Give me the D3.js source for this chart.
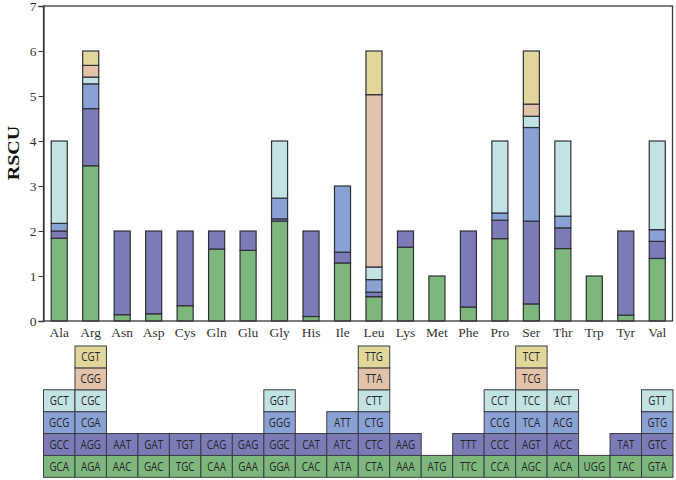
<!DOCTYPE html>
<html>
<head>
<meta charset="utf-8">
<script src="https://cdn.jsdelivr.net/npm/d3@7/dist/d3.min.js"></script>
<style>
  html, body { margin: 0; padding: 0; background: #fff; }
  svg { display: block; }
</style>
</head>
<body>
<svg id="chart" width="676" height="480"></svg>
<script>
// ---------------- data ----------------
const aminoAcids = ["Ala","Arg","Asn","Asp","Cys","Gln","Glu","Gly","His","Ile","Leu","Lys","Met","Phe","Pro","Ser","Thr","Trp","Tyr","Val"];

// codons per amino acid, bottom to top
const codons = [
  ["GCA","GCC","GCG","GCT"],
  ["AGA","AGG","CGA","CGC","CGG","CGT"],
  ["AAC","AAT"],
  ["GAC","GAT"],
  ["TGC","TGT"],
  ["CAA","CAG"],
  ["GAA","GAG"],
  ["GGA","GGC","GGG","GGT"],
  ["CAC","CAT"],
  ["ATA","ATC","ATT"],
  ["CTA","CTC","CTG","CTT","TTA","TTG"],
  ["AAA","AAG"],
  ["ATG"],
  ["TTC","TTT"],
  ["CCA","CCC","CCG","CCT"],
  ["AGC","AGT","TCA","TCC","TCG","TCT"],
  ["ACA","ACC","ACG","ACT"],
  ["UGG"],
  ["TAC","TAT"],
  ["GTA","GTC","GTG","GTT"]
];

// RSCU values, same order as codons
const rscu = [
  [1.84, 0.16, 0.17, 1.83],
  [3.45, 1.27, 0.55, 0.15, 0.26, 0.32],
  [0.14, 1.86],
  [0.16, 1.84],
  [0.34, 1.66],
  [1.60, 0.40],
  [1.57, 0.43],
  [2.22, 0.05, 0.46, 1.27],
  [0.10, 1.90],
  [1.29, 0.24, 1.47],
  [0.54, 0.10, 0.28, 0.28, 3.83, 0.97],
  [1.64, 0.36],
  [1.00],
  [0.31, 1.69],
  [1.83, 0.41, 0.16, 1.60],
  [0.38, 1.84, 2.08, 0.25, 0.27, 1.18],
  [1.61, 0.46, 0.26, 1.67],
  [1.00],
  [0.13, 1.87],
  [1.39, 0.38, 0.26, 1.97]
];

const yTicks = [0, 1, 2, 3, 4, 5, 6, 7];
const layerColors = ["#7db77b", "#7b7cb6", "#8aa1d3", "#c3e2e4", "#e2c3a9", "#e1d79b"];

// ---------------- layout ----------------
const svg = d3.select("#chart");
const plotLeft = 43.5, plotRight = 672.5, plotTop = 6, plotBottom = 321;

const x = d3.scaleBand().domain(aminoAcids).range([plotLeft, plotRight + 0.5])
  .paddingInner(0.49).paddingOuter(0.245);
const col = d3.scaleBand().domain(aminoAcids).range([plotLeft, plotRight + 0.5]).padding(0);
const y = d3.scaleLinear().domain([0, 7]).range([plotBottom, plotTop]);
const row = d3.scaleLinear().domain([0, 6]).range([477.3, 346]);

// stacked segments
const segments = [];
aminoAcids.forEach((aa, i) => {
  let cum = 0;
  rscu[i].forEach((v, k) => {
    segments.push({ aa, k, y0: cum, y1: cum + v, codon: codons[i][k] });
    cum += v;
  });
});

// bars
svg.append("g").selectAll("rect").data(segments).join("rect")
  .attr("x", d => x(d.aa))
  .attr("width", x.bandwidth())
  .attr("y", d => y(d.y1))
  .attr("height", d => y(d.y0) - y(d.y1))
  .attr("fill", d => layerColors[d.k])
  .attr("stroke", "#2f2f3a")
  .attr("stroke-width", 1.2);

// frame
svg.append("rect")
  .attr("x", plotLeft).attr("y", plotTop)
  .attr("width", plotRight - plotLeft).attr("height", plotBottom - plotTop)
  .attr("fill", "none").attr("stroke", "#3a3a3a").attr("stroke-width", 1.3);

// y axis
const yAxis = svg.append("g")
  .attr("transform", `translate(${plotLeft},0)`)
  .call(d3.axisLeft(y).tickValues(yTicks).tickSize(5).tickPadding(2).tickFormat(d3.format("d")));
yAxis.select(".domain").attr("stroke", "#3a3a3a").attr("stroke-width", 1.3);
yAxis.selectAll(".tick line").attr("stroke", "#3a3a3a");
yAxis.selectAll("text")
  .attr("font-family", "'Liberation Serif', 'Times New Roman', serif")
  .attr("font-size", 13.5).attr("fill", "#333");

// x axis labels
const xAxis = svg.append("g")
  .attr("transform", `translate(0,${plotBottom})`)
  .call(d3.axisBottom(x).tickSize(0).tickPadding(6));
xAxis.select(".domain").remove();
xAxis.selectAll("text")
  .attr("font-family", "'Liberation Serif', 'Times New Roman', serif")
  .attr("font-size", 13.5).attr("fill", "#333");

// y axis title
svg.append("text")
  .attr("transform", "translate(19,153) rotate(-90) scale(1,0.8)")
  .attr("text-anchor", "middle")
  .attr("font-family", "'Liberation Serif', 'Times New Roman', serif")
  .attr("font-weight", "bold")
  .attr("font-size", 20)
  .attr("fill", "#111")
  .text("RSCU");

// codon table
const cells = svg.append("g").selectAll("g").data(segments).join("g");
cells.append("rect")
  .attr("x", d => col(d.aa))
  .attr("width", col.bandwidth())
  .attr("y", d => row(d.k + 1))
  .attr("height", d => row(d.k) - row(d.k + 1))
  .attr("fill", d => layerColors[d.k])
  .attr("stroke", "#3c3c48")
  .attr("stroke-width", 1);
cells.append("text")
  .attr("transform", d => `translate(${col(d.aa) + col.bandwidth() / 2},${(row(d.k) + row(d.k + 1)) / 2 + 4.2}) scale(0.82,1)`)
  .attr("text-anchor", "middle")
  .attr("font-family", "'Open Sans', 'Noto Sans', sans-serif")
  .attr("font-size", 12)
  .attr("fill", "#26262c")
  .text(d => d.codon);
</script>
</body>
</html>
